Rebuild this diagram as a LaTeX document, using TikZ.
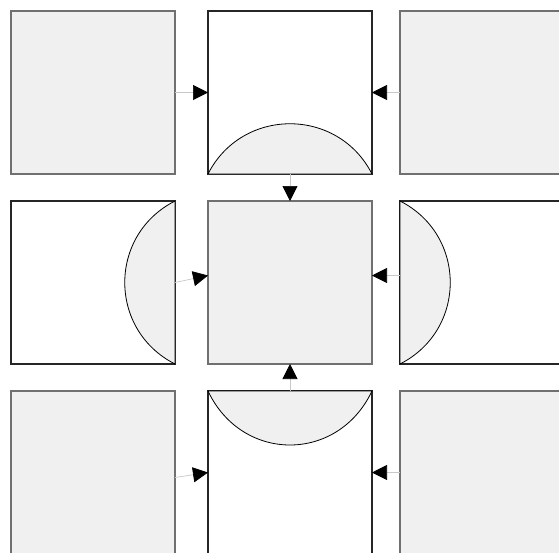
\documentclass[tikz,border=0pt]{standalone}
\usepackage{xcolor}
\usepackage{tikz}
\usetikzlibrary{arrows.meta}

\begin{document}
\begin{tikzpicture}[
    x=1pt, y=-1pt,
    tile/.style={rectangle, inner sep=0pt, outer sep=0pt,
                 minimum width=164pt, minimum height=163pt, line width=1.1pt},
    full/.style={tile, draw=tileline, fill=tilefill},
    open/.style={tile, draw=black!85, fill=white},
    lens/.style={draw=black, fill=tilefill, line width=0.8pt},
    flow/.style={-{Triangle[length=15pt,width=15pt,color=black]},
                 draw=flowline, line width=0.7pt},
  ]
  \definecolor{tilefill}{HTML}{F0F0F0}
  \definecolor{tileline}{HTML}{707070}
  \definecolor{flowline}{HTML}{C8C8C8}

  \clip (0,0) rectangle (559,552);

  % Column and row axes (px)
  \def\xa{93}\def\xb{290}\def\xc{482}
  \def\ya{92.5}\def\yb{282.5}\def\yc{472.5}

  % ========================= TOP ROW =========================
  \node[full] (tl) at (\xa, \ya) {};
  \node[open] (tm) at (\xb, \ya) {};
  \node[full] (tr) at (\xc, \ya) {};

  % ======================== MIDDLE ROW =======================
  \node[open] (ml) at (\xa, \yb) {};
  \node[full] (c)  at (\xb, \yb) {};
  \node[open] (mr) at (\xc, \yb) {};

  % ======================== BOTTOM ROW =======================
  \node[full] (bl) at (\xa, \yc) {};
  \node[open] (bm) at (\xb, \yc) {};
  \node[full] (br) at (\xc, \yc) {};

  % ========================== LENSES =========================
  \draw[lens] (tm.south west) .. controls +(34,-67) and +(-34,-67) .. (tm.south east) -- cycle;
  \draw[lens] (bm.north west) .. controls +(34,72) and +(-34,72) .. (bm.north east) -- cycle;
  \draw[lens] (ml.north east) .. controls +(-67,34) and +(-67,-34) .. (ml.south east) -- cycle;
  \draw[lens] (mr.north west) .. controls +(67,34) and +(67,-34) .. (mr.south west) -- cycle;

  % ========================== ARROWS =========================
  % Top row into the middle tile, then down into the centre
  \draw[flow] (tl.east) -- (tm.west);
  \draw[flow] (tr.west) -- (tm.east);
  \draw[flow] (tm.south) -- (c.north);
  % Sides into the centre
  \draw[flow] (ml.east) -- ([yshift=7pt]c.west);
  \draw[flow] ([yshift=7pt]mr.west) -- ([yshift=7pt]c.east);
  % Bottom row into the middle tile, then up into the centre
  \draw[flow] ([yshift=-5pt]bl.east) -- (bm.west);
  \draw[flow] (br.west) -- (bm.east);
  \draw[flow] (bm.north) -- (c.south);
\end{tikzpicture}
\end{document}
